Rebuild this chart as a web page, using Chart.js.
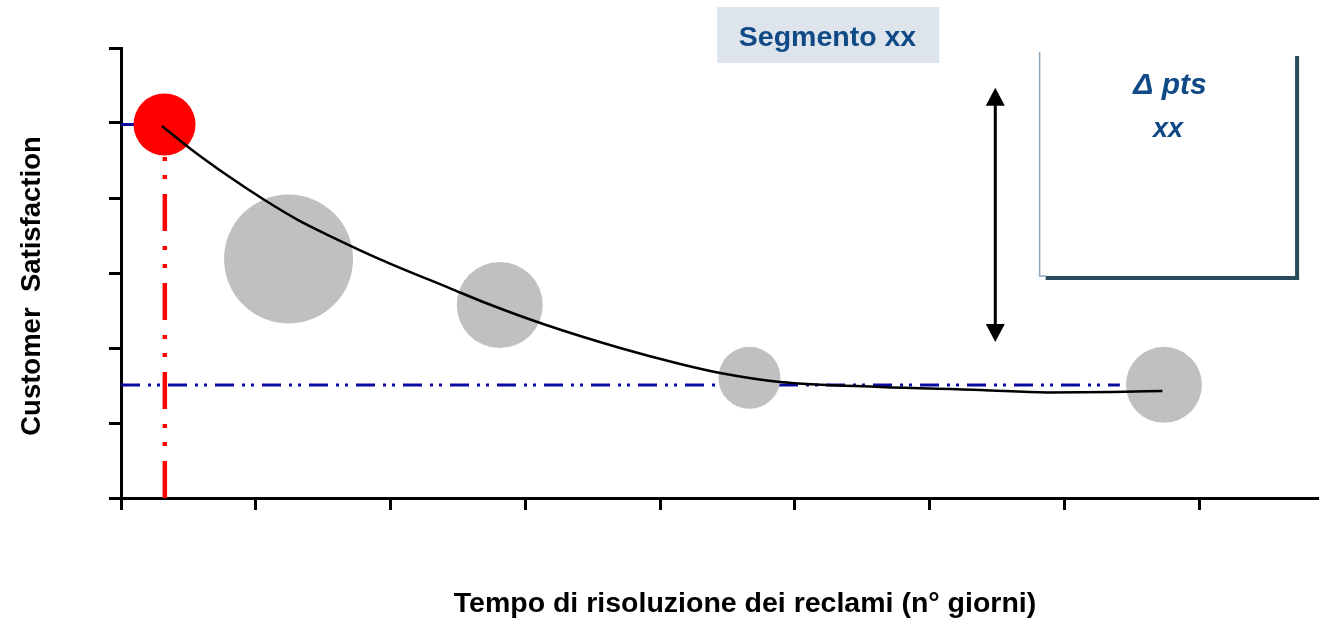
<!DOCTYPE html>
<html lang="it">
<head>
<meta charset="utf-8">
<title>Customer Satisfaction vs tempo di risoluzione</title>
<script src="https://cdn.jsdelivr.net/npm/chart.js@4.4.1/dist/chart.umd.min.js"></script>
<style>
  html, body { margin: 0; padding: 0; background: #ffffff; }
  canvas { display: block; }
</style>
</head>
<body>
<canvas id="chart" width="1319" height="618"></canvas>
<script>
// Segment bubbles: x = resolution time, y = satisfaction, r = bubble radius
const bubbleX = [0.323, 1.243, 2.81, 4.662, 7.737];
const bubbleY = [4.98, 3.187, 2.573, 1.603, 1.509];
const bubbleR = [31, 64.5, 43, 31, 38];

// Trend curve through the segments
const trendX = [0.304, 0.512, 0.809, 1.056, 1.304, 1.551, 1.922, 2.442, 2.716, 3.132, 3.703, 4.148, 4.445, 4.890, 5.633, 6.375, 6.872, 7.362, 7.726];
const trendY = [4.960, 4.661, 4.276, 3.983, 3.716, 3.493, 3.183, 2.796, 2.593, 2.320, 2.000, 1.787, 1.667, 1.547, 1.480, 1.440, 1.407, 1.413, 1.427];

// Reference levels
const bestX = 0.325;          // best segment's resolution time
const bestLevel = 4.98;       // best segment's satisfaction
const floorLevel = 1.507;     // satisfaction plateau
const floorEndX = 7.41;

// Gap arrow (Δ pts)
const gapX = 6.486;
const gapTop = 5.47;
const gapBottom = 2.08;

// Axis ranges
const xMin = 0, xMax = 8.88, yMin = 0, yMax = 6;

// Labels
const segmentLabel = 'Segmento xx';
const deltaLabel = 'Δ pts';
const deltaValue = 'xx';
const xTitle = 'Tempo di risoluzione dei reclami (n° giorni)';
const yTitle = 'Customer  Satisfaction';

const toPoints = (xs, ys) => xs.map((x, i) => ({ x, y: ys[i] }));

const bubbles = bubbleX.map((x, i) => ({ x, y: bubbleY[i], r: bubbleR[i] }));

const dashDotDot = [19, 8, 3, 6, 3, 8];
const redDashDotDot = [37, 15, 4, 14, 4, 15];

const annotations = {
  id: 'annotations',
  afterDraw(chart) {
    const { ctx, scales: { x, y } } = chart;
    ctx.save();

    // Segment label panel
    const sx0 = x.getPixelForValue(4.423), sx1 = x.getPixelForValue(6.071);
    const sy0 = y.getPixelForValue(6.547), sy1 = y.getPixelForValue(5.80);
    ctx.fillStyle = '#dde4eb';
    ctx.fillRect(sx0, sy0, sx1 - sx0, sy1 - sy0);
    ctx.fillStyle = '#0f4a86';
    ctx.font = 'bold 28.5px "Liberation Sans", Arial, sans-serif';
    ctx.textAlign = 'center';
    ctx.textBaseline = 'alphabetic';
    ctx.fillText(segmentLabel, 827.5, 46);

    // Delta panel with shadow edges
    const bx0 = x.getPixelForValue(6.815), bx1 = x.getPixelForValue(8.71);
    const by0 = y.getPixelForValue(5.947), by1 = y.getPixelForValue(2.96);
    ctx.strokeStyle = '#8aa7bb';
    ctx.lineWidth = 1.5;
    ctx.beginPath();
    ctx.moveTo(bx0, by0);
    ctx.lineTo(bx0, by1);
    ctx.lineTo(bx0 + 6, by1);
    ctx.stroke();
    ctx.fillStyle = '#284a5c';
    ctx.fillRect(bx0 + 6, by1, bx1 - bx0 - 2, 4);
    ctx.fillRect(bx1, y.getPixelForValue(5.893), 4, by1 + 4 - y.getPixelForValue(5.893));

    ctx.fillStyle = '#0f4a86';
    ctx.font = 'italic bold 30px "Liberation Sans", Arial, sans-serif';
    ctx.fillText(deltaLabel, 1170, 94);
    ctx.font = 'italic bold 27px "Liberation Sans", Arial, sans-serif';
    ctx.fillText(deltaValue, 1168, 137);

    // Double-headed gap arrow
    const ax = x.getPixelForValue(gapX);
    const ay0 = y.getPixelForValue(gapTop), ay1 = y.getPixelForValue(gapBottom);
    const head = 18, half = 9.5;
    ctx.strokeStyle = '#000';
    ctx.fillStyle = '#000';
    ctx.lineWidth = 3;
    ctx.beginPath();
    ctx.moveTo(ax, ay0 + head - 2);
    ctx.lineTo(ax, ay1 - head + 2);
    ctx.stroke();
    ctx.beginPath();
    ctx.moveTo(ax, ay0);
    ctx.lineTo(ax - half, ay0 + head);
    ctx.lineTo(ax + half, ay0 + head);
    ctx.closePath();
    ctx.fill();
    ctx.beginPath();
    ctx.moveTo(ax, ay1);
    ctx.lineTo(ax - half, ay1 - head);
    ctx.lineTo(ax + half, ay1 - head);
    ctx.closePath();
    ctx.fill();

    // Axis titles
    ctx.fillStyle = '#000';
    ctx.font = 'bold 28.5px "Liberation Sans", Arial, sans-serif';
    ctx.textAlign = 'center';
    ctx.textBaseline = 'alphabetic';
    ctx.fillText(xTitle, 745, 612);
    ctx.font = 'bold 27.5px "Liberation Sans", Arial, sans-serif';
    ctx.translate(40, 286);
    ctx.rotate(-Math.PI / 2);
    ctx.fillText(yTitle, 0, 0);

    ctx.restore();
  }
};

new Chart(document.getElementById('chart'), {
  type: 'scatter',
  data: {
    datasets: [
      {
        type: 'line',
        label: 'trend',
        data: toPoints(trendX, trendY),
        borderColor: '#000000',
        borderWidth: 2.5,
        pointRadius: 0,
        cubicInterpolationMode: 'monotone',
        fill: false,
        order: 0
      },
      {
        type: 'bubble',
        label: 'best',
        data: bubbles.slice(0, 1),
        backgroundColor: '#ff0000',
        borderWidth: 0,
        hoverRadius: 0,
        clip: false,
        order: 1
      },
      {
        type: 'bubble',
        label: 'segments',
        data: bubbles.slice(1),
        backgroundColor: '#c0c0c0',
        borderWidth: 0,
        hoverRadius: 0,
        clip: false,
        order: 2
      },
      {
        type: 'line',
        label: 'best time',
        data: [{ x: bestX, y: yMin }, { x: bestX, y: bestLevel }],
        borderColor: '#ff0000',
        borderWidth: 4.5,
        borderDash: redDashDotDot,
        borderCapStyle: 'butt',
        pointRadius: 0,
        fill: false,
        order: 3
      },
      {
        type: 'line',
        label: 'best level',
        data: [{ x: xMin, y: bestLevel }, { x: bestX, y: bestLevel }],
        borderColor: '#0a0aa0',
        borderWidth: 2.8,
        borderDash: dashDotDot,
        pointRadius: 0,
        fill: false,
        order: 4
      },
      {
        type: 'line',
        label: 'plateau',
        data: [{ x: xMin, y: floorLevel }, { x: floorEndX, y: floorLevel }],
        borderColor: '#0a0aa0',
        borderWidth: 2.8,
        borderDash: dashDotDot,
        pointRadius: 0,
        fill: false,
        order: 4
      }
    ]
  },
  options: {
    responsive: false,
    animation: false,
    events: [],
    devicePixelRatio: 1,
    layout: { autoPadding: false, padding: { top: 48, right: 1, left: 0, bottom: 0 } },
    plugins: { legend: { display: false }, tooltip: { enabled: false } },
    scales: {
      x: {
        type: 'linear',
        min: xMin,
        max: xMax,
        ticks: { display: false, stepSize: 1, includeBounds: false },
        grid: { drawOnChartArea: false, drawTicks: true, tickLength: 12, color: '#000', lineWidth: 3 },
        border: { display: true, color: '#000', width: 3 },
        afterFit(scale) { scale.height = 120; }
      },
      y: {
        type: 'linear',
        min: yMin,
        max: yMax,
        ticks: { display: false, stepSize: 1, includeBounds: false },
        grid: { drawOnChartArea: false, drawTicks: true, tickLength: 12, color: '#000', lineWidth: 3 },
        border: { display: true, color: '#000', width: 3 },
        afterFit(scale) { scale.width = 121; }
      }
    }
  },
  plugins: [annotations]
});
</script>
</body>
</html>
